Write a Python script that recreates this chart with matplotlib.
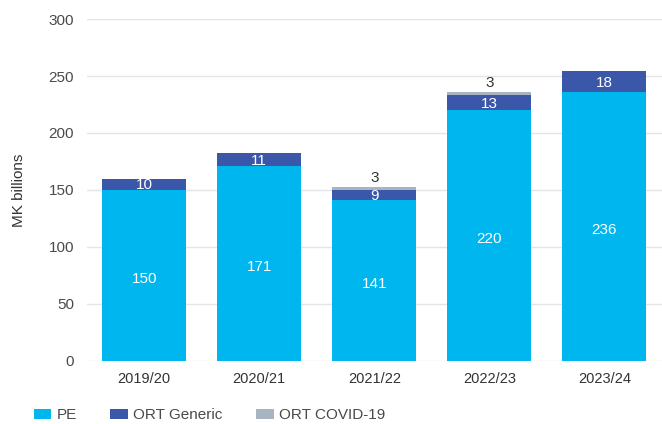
import numpy as np
import matplotlib
matplotlib.use('Agg')
import matplotlib.pyplot as plt

years = ['2019/20', '2020/21', '2021/22', '2022/23', '2023/24']
pe = [150, 171, 141, 220, 236]
ort_generic = [10, 11, 9, 13, 18]
ort_covid = [0, 0, 3, 3, 0]

c_pe = '#00B6EE'
c_gen = '#3B57A9'
c_cov = '#A8B4C2'

plt.rcParams['font.family'] = ['Liberation Sans', 'DejaVu Sans']

fig = plt.figure(figsize=(6.62, 4.24), dpi=100)
ax = fig.add_axes([0.131, 0.149, 0.869, 0.806])

x = np.arange(len(years))
w = 0.73
pe_a = np.array(pe)
gen_a = np.array(ort_generic)
cov_a = np.array(ort_covid)

ax.bar(x, pe_a, w, color=c_pe, label='PE', zorder=3)
ax.bar(x, gen_a, w, bottom=pe_a, color=c_gen, label='ORT Generic', zorder=3)
ax.bar(x, cov_a, w, bottom=pe_a + gen_a, color=c_cov, label='ORT COVID-19', zorder=3)

for i in range(len(years)):
    ax.text(x[i], pe_a[i] / 2 - 3, str(pe[i]), ha='center', va='center',
            color='white', fontsize=11, zorder=4)
    ax.text(x[i], pe_a[i] + gen_a[i] / 2 - 1, str(ort_generic[i]), ha='center',
            va='center', color='white', fontsize=11, zorder=4)
    if ort_covid[i] > 0:
        ax.text(x[i], pe_a[i] + gen_a[i] + cov_a[i] + 1.5, str(ort_covid[i]),
                ha='center', va='bottom', color='#333333', fontsize=11, zorder=4)

ax.set_xlim(-0.5, 4.5)
ax.set_ylim(0, 300)
ax.set_yticks(range(0, 301, 50))
ax.set_xticks(x)
ax.set_xticklabels(years)
ax.yaxis.grid(True, color='#E4E4EA', linewidth=1, zorder=0)
ax.set_axisbelow(True)
for s in ax.spines.values():
    s.set_visible(False)
ax.tick_params(axis='y', length=0, pad=9, labelsize=11, labelcolor='#4a4a4a')
ax.tick_params(axis='x', length=0, pad=8, labelsize=10.5, labelcolor='#333333')
ax.set_ylabel('MK billions', fontsize=11, color='#333333', labelpad=16)

leg = fig.legend(loc='lower left', bbox_to_anchor=(0.03, -0.028), ncol=3,
                 frameon=False, fontsize=11, handlelength=1.15, handleheight=0.6,
                 handletextpad=0.35, columnspacing=2.2)
for t in leg.get_texts():
    t.set_color('#4a4a4a')

fig.savefig('out.png', dpi=100)
